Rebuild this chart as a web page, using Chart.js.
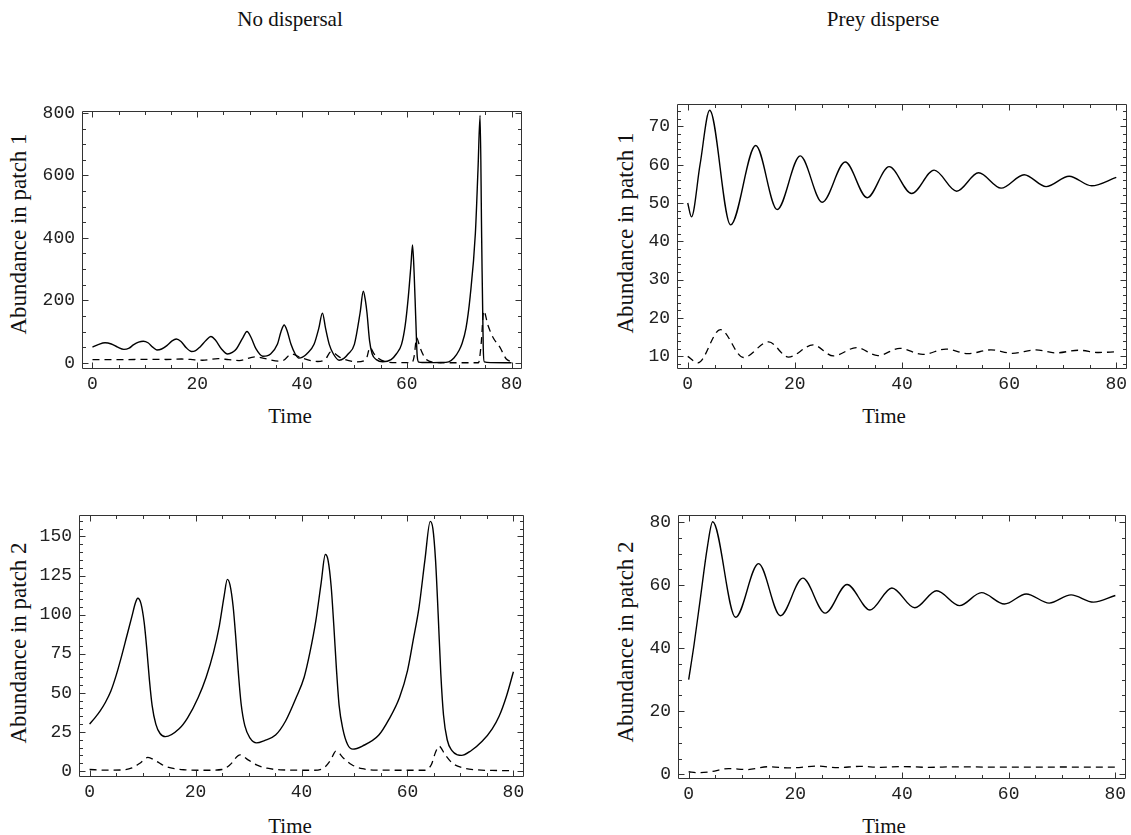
<!DOCTYPE html>
<html>
<head>
<meta charset="utf-8">
<script src="https://cdn.jsdelivr.net/npm/chart.js@4.4.1/dist/chart.umd.min.js"></script>
<style>
  body { margin: 0; background: #fff; width: 1131px; height: 835px; position: relative; overflow: hidden; }
  canvas { position: absolute; }
  .txt { position: absolute; font-family: "Liberation Serif", serif; font-size: 21px; color: #111; white-space: nowrap; transform: translate(-50%, -50%); }
  .ylab { font-size: 23px; transform: translate(-50%, -50%) rotate(-90deg); }
</style>
</head>
<body>
<div class="txt" style="left:290px;top:19px">No dispersal</div>
<div class="txt" style="left:883px;top:19px">Prey disperse</div>
<div class="txt ylab" style="left:19px;top:234px">Abundance in patch 1</div>
<div class="txt ylab" style="left:626px;top:233px">Abundance in patch 1</div>
<div class="txt ylab" style="left:19px;top:643px">Abundance in patch 2</div>
<div class="txt ylab" style="left:626px;top:642px">Abundance in patch 2</div>
<div class="txt" style="left:290px;top:416px">Time</div>
<div class="txt" style="left:884px;top:416px">Time</div>
<div class="txt" style="left:290px;top:826px">Time</div>
<div class="txt" style="left:884px;top:826px">Time</div>
<canvas id="c1"></canvas>
<canvas id="c2"></canvas>
<canvas id="c3"></canvas>
<canvas id="c4"></canvas>
<script>
// x ticks shared by all panels
const timeTicks = [0, 20, 40, 60, 80];

// no dispersal, patch 1  [time, abundance]
const noDispP1Prey = [[0,50],[1.2,59],[2.4,64],[3.6,60],[4.8,50],[6.0,43],[7.0,47],[7.8,57],[8.8,66],[9.7,69],[10.6,64],[11.5,50],[12.3,41],[13.2,44],[14.2,55],[15.2,70],[16.0,76],[16.9,68],[17.9,48],[18.9,36],[19.7,39],[20.5,50],[21.7,72],[22.6,84],[23.5,72],[24.6,45],[25.8,28],[26.7,33],[27.5,45],[28.7,80],[29.5,100],[30.3,80],[31.2,45],[32.5,21],[33.3,22],[34.0,28],[35.3,59],[36.0,100],[36.6,121],[37.2,100],[37.9,59],[38.7,28],[39.4,15],[40.1,18],[40.9,28],[42.3,59],[43.2,110],[43.9,159],[44.5,110],[45.2,59],[46.0,28],[47.1,8],[48.0,14],[48.8,28],[50.0,59],[51.1,161],[51.7,229],[52.1,200],[52.4,161],[52.9,70],[53.4,28],[54.2,10],[55.4,3],[57.0,10],[58.0,28],[59.0,59],[59.7,120],[60.3,212],[60.8,313],[61.1,377],[61.4,290],[61.7,150],[62.0,20],[62.3,2],[63.0,1],[65.0,0.5],[66.5,1],[68.0,3],[69.0,15],[70.0,40],[70.5,59],[71.3,110],[72.1,212],[73.1,415],[73.6,619],[74.0,792],[74.3,400],[74.6,50],[74.8,3],[76.0,0.5],[80,0]];
const noDispP1Pred = [[0,10],[4,10],[8,10.5],[11,11],[14,10.5],[17,12],[19.5,9.5],[21,8],[24,13],[26,10],[28,7],[31,19],[33,13],[35.5,5],[36.5,8],[38,28],[40,15],[43,4],[44.5,12],[45.5,35],[47.5,15],[50.5,3],[52.2,10],[53,49],[53.7,30],[54.5,15],[56,3],[58,0.5],[61,0.5],[61.4,20],[61.9,80],[62.5,50],[63.5,15],[65,2],[68,0],[73.7,0],[74.2,60],[74.7,166],[75.5,120],[76.5,80],[77.8,49],[79,12],[80,3]];
const noDispP1Ticks = [0, 200, 400, 600, 800];

// prey disperse, patch 1
const dispP1Prey = [[0,50],[0.7,46.4],[2.3,60],[4.1,74.2],[8.0,44.3],[12.7,65],[16.7,48.3],[21.0,62.3],[25.1,50.2],[29.4,60.7],[33.5,51.4],[37.6,59.5],[41.8,52.5],[46.0,58.6],[50.2,53.1],[54.3,57.9],[58.5,53.9],[62.8,57.4],[66.9,54.3],[71.2,57.0],[75.4,54.5],[80,56.7]];
const dispP1Pred = [[0,10],[1.9,8.3],[6.1,17],[10.4,9.7],[15.1,13.8],[18.8,9.8],[23.4,13],[27.2,10.1],[31.5,12.3],[35.5,10.2],[39.6,12.1],[43.9,10.5],[48.2,11.9],[52.3,10.7],[56.6,11.7],[60.6,10.8],[65,11.7],[68.7,10.9],[73,11.6],[76.7,11],[80,11.2]];
const dispP1Ticks = [10, 20, 30, 40, 50, 60, 70];

// no dispersal, patch 2
const noDispP2Prey = [[0,30],[1,34],[2,38.5],[3,44],[4,51],[5,61],[6,73],[7,86],[8,99],[8.6,107],[9.1,110.5],[9.7,107],[10.3,95],[10.8,78],[11.3,58],[11.8,42],[12.5,30],[13.3,24],[14.3,22],[16.9,27],[18.5,34],[20.5,47],[22,60],[23.4,76],[24.5,93],[25.4,112],[26.0,122.5],[26.5,119],[27.1,105],[27.6,85],[28.1,62],[28.6,43],[29.3,29],[30.3,21],[31.5,18],[33,19.5],[35.1,23],[37,32],[39,47],[40.5,60],[41.6,76],[42.7,96],[43.7,120],[44.5,138.4],[45,135],[45.6,118],[46.1,93],[46.6,65],[47.1,42],[47.8,27],[48.7,17],[49.7,14],[51.5,16],[54.6,23],[56.5,33],[58.5,47],[60,64],[61.1,84],[62.2,105],[63.3,135],[64.3,159.6],[64.8,155],[65.3,135],[65.8,100],[66.3,62],[66.8,36],[67.5,20],[68.4,13],[69.5,10.3],[70.2,10],[72,13],[74.1,19],[76,27],[77.3,35],[78.7,48],[80,63.5]];
const noDispP2Pred = [[0,1],[3,0.6],[6,0.7],[8,2],[9.5,5],[11,8.7],[12.5,6.5],[14,3.5],[16,1.5],[18,0.8],[22,0.5],[25,1],[26.5,4],[28.4,10.4],[30,7],[31.5,4],[33.5,1.8],[36,0.8],[42,0.5],[44,1.5],[45.5,7],[46.5,12.8],[48,8],[49.5,4],[51.5,1.5],[54,0.6],[63,0.5],[64.5,4],[65.3,12],[66,15.9],[67,11],[68.5,5],[70.5,2],[73,0.8],[76,0.4],[80,0.3]];
const noDispP2Ticks = [0, 25, 50, 75, 100, 125, 150];

// prey disperse, patch 2
const dispP2Prey = [[0,30],[1,41],[2.2,55.9],[3.5,72],[4.5,80.1],[8.8,49.8],[13.1,66.8],[17.2,50.3],[21.4,62.2],[25.6,51.1],[29.7,60.2],[34.0,52.1],[38.1,59.1],[42.4,52.8],[46.5,58.2],[50.8,53.5],[54.9,57.6],[59.2,54.0],[63.3,57.2],[67.6,54.3],[71.7,56.9],[75.9,54.6],[80,56.7]];
const dispP2Pred = [[0,0.8],[1.5,0.5],[4,0.8],[7.5,1.8],[11,1.5],[15,2.4],[19,2.0],[24,2.6],[28,2.1],[32,2.5],[36,2.2],[40,2.45],[45,2.2],[50,2.35],[60,2.25],[70,2.3],[80,2.25]];
const dispP2Ticks = [0, 20, 40, 60, 80];

// frame with inward major/minor ticks on all four sides
const frameTicks = {
  id: "frameTicks",
  afterDraw(chart, args, opts) {
    const { ctx, chartArea: a } = chart;
    const x = chart.scales.x, y = chart.scales.y;
    const L = Math.round(a.left) + 0.5, R = Math.round(a.right) - 0.5;
    const T = Math.round(a.top) + 0.5, B = Math.round(a.bottom) - 0.5;
    ctx.save();
    ctx.strokeStyle = "#333";
    ctx.lineWidth = 1;
    ctx.beginPath();
    ctx.rect(L, T, R - L, B - T);
    const markX = (v, len) => {
      const p = Math.round(x.getPixelForValue(v)) + 0.5;
      ctx.moveTo(p, B); ctx.lineTo(p, B - len);
      ctx.moveTo(p, T); ctx.lineTo(p, T + len);
    };
    const markY = (v, len) => {
      const p = Math.round(y.getPixelForValue(v)) + 0.5;
      ctx.moveTo(L, p); ctx.lineTo(L + len, p);
      ctx.moveTo(R, p); ctx.lineTo(R - len, p);
    };
    x.ticks.forEach(t => markX(t.value, 6));
    y.ticks.forEach(t => markY(t.value, 6));
    for (let v = Math.ceil(x.min / opts.xMinor) * opts.xMinor; v <= x.max; v += opts.xMinor) {
      if (!x.ticks.some(t => t.value === v)) markX(v, 3.5);
    }
    for (let v = Math.ceil(y.min / opts.yMinor) * opts.yMinor; v <= y.max; v += opts.yMinor) {
      if (!y.ticks.some(t => t.value === v)) markY(v, 3.5);
    }
    ctx.stroke();
    ctx.restore();
  },
};

const tickFont = { family: "Liberation Mono", size: 18 };

function makePanel(id, box, prey, pred, yTicks, yMin, yMax, yMinor) {
  const yw = 75, xh = 40, pad = 5;
  const canvas = document.getElementById(id);
  canvas.width = box.R - box.L + yw + pad;
  canvas.height = box.B - box.T + pad + xh;
  canvas.style.left = (box.L - yw) + "px";
  canvas.style.top = (box.T - pad) + "px";

  const config = {
    type: "line",
    data: {
      datasets: [
        {
          data: prey.map(p => ({ x: p[0], y: p[1] })),
          borderColor: "#000",
          borderWidth: 1.4,
          pointRadius: 0,
          cubicInterpolationMode: "monotone",
        },
        {
          data: pred.map(p => ({ x: p[0], y: p[1] })),
          borderColor: "#000",
          borderWidth: 1.3,
          borderDash: [7, 5],
          pointRadius: 0,
          cubicInterpolationMode: "monotone",
        },
      ],
    },
    options: {
      responsive: false,
      animation: false,
      devicePixelRatio: 1,
      layout: { padding: { top: pad, right: pad, left: 0, bottom: 0 } },
      plugins: {
        legend: { display: false },
        tooltip: { enabled: false },
        frameTicks: { xMinor: 5, yMinor: yMinor },
      },
      scales: {
        x: {
          type: "linear",
          min: -2,
          max: 82,
          afterBuildTicks: s => { s.ticks = timeTicks.map(v => ({ value: v })); },
          afterFit: s => { s.height = xh; },
          grid: { display: false, drawTicks: false },
          border: { display: false },
          ticks: { font: tickFont, color: "#222", padding: 4, maxRotation: 0, autoSkip: false },
        },
        y: {
          min: yMin,
          max: yMax,
          afterBuildTicks: s => { s.ticks = yTicks.map(v => ({ value: v })); },
          afterFit: s => { s.width = yw; },
          grid: { display: false, drawTicks: false },
          border: { display: false },
          ticks: { font: tickFont, color: "#222", padding: 7, autoSkip: false },
        },
      },
    },
    plugins: [frameTicks],
  };
  return new Chart(canvas, config);
}

makePanel("c1", { L: 82, R: 522, T: 98, B: 369 }, noDispP1Prey, noDispP1Pred, noDispP1Ticks, -20, 807, 50);
makePanel("c2", { L: 677, R: 1127, T: 91, B: 369 }, dispP1Prey, dispP1Pred, dispP1Ticks, 6.7, 75.9, 2);
makePanel("c3", { L: 79, R: 524, T: 502, B: 777 }, noDispP2Prey, noDispP2Pred, noDispP2Ticks, -3.8, 163.8, 5);
makePanel("c4", { L: 678, R: 1126, T: 502, B: 779 }, dispP2Prey, dispP2Pred, dispP2Ticks, -1.5, 82.3, 5);
</script>
</body>
</html>
